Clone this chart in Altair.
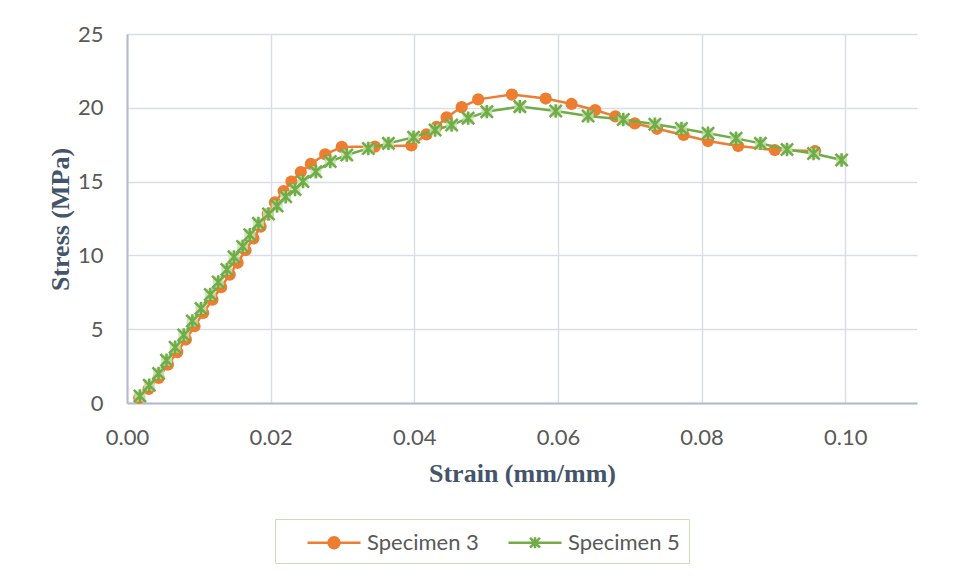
import altair as alt
import pandas as pd

# Specimen 3 (orange, circle markers)
strain_s3 = [0.0017, 0.0030, 0.0044, 0.0057, 0.0070, 0.0082, 0.0094, 0.0106, 0.0119, 0.0131,
             0.0143, 0.0154, 0.0165, 0.0176, 0.0186, 0.0196, 0.0206, 0.0218, 0.0229, 0.0242,
             0.0256, 0.0276, 0.0299, 0.0345, 0.0396, 0.0417, 0.0431, 0.0445, 0.0466, 0.0489,
             0.0536, 0.0583, 0.0619, 0.0652, 0.0680, 0.0707, 0.0738, 0.0775, 0.0809, 0.0851,
             0.0902, 0.0958]
stress_s3 = [0.35, 0.95, 1.70, 2.60, 3.45, 4.30, 5.20, 6.10, 7.00, 7.85,
             8.70, 9.50, 10.35, 11.15, 11.95, 12.80, 13.60, 14.36, 15.00, 15.65,
             16.20, 16.85, 17.35, 17.37, 17.45, 18.20, 18.70, 19.35, 20.05, 20.57,
             20.90, 20.63, 20.26, 19.85, 19.42, 18.95, 18.58, 18.16, 17.75, 17.41,
             17.14, 17.07]

# Specimen 5 (green, star markers)
strain_s5 = [0.0018, 0.0031, 0.0044, 0.0055, 0.0067, 0.0079, 0.0091, 0.0103, 0.0116, 0.0127,
             0.0139, 0.0149, 0.0161, 0.0171, 0.0183, 0.0197, 0.0209, 0.0221, 0.0234, 0.0245,
             0.0263, 0.0283, 0.0306, 0.0336, 0.0364, 0.0399, 0.0429, 0.0452, 0.0475, 0.0501,
             0.0547, 0.0597, 0.0642, 0.0691, 0.0735, 0.0772, 0.0809, 0.0848, 0.0882, 0.0919,
             0.0956, 0.0995]
stress_s5 = [0.47, 1.20, 2.00, 2.90, 3.77, 4.60, 5.55, 6.40, 7.35, 8.20,
             9.05, 9.90, 10.60, 11.40, 12.17, 12.80, 13.35, 13.98, 14.47, 15.00,
             15.67, 16.36, 16.80, 17.25, 17.59, 18.00, 18.50, 18.83, 19.30, 19.74,
             20.08, 19.78, 19.44, 19.20, 18.88, 18.60, 18.27, 17.93, 17.59, 17.18,
             16.90, 16.46]

series_names = ["Specimen 3", "Specimen 5"]
series_colors = ["#ED7D31", "#70AD47"]
x_ticks = [0.0, 0.02, 0.04, 0.06, 0.08, 0.10]
y_ticks = [0, 5, 10, 15, 20, 25]

df = pd.concat([
    pd.DataFrame({"strain": strain_s3, "stress": stress_s3, "series": series_names[0]}),
    pd.DataFrame({"strain": strain_s5, "stress": stress_s5, "series": series_names[1]}),
], ignore_index=True)

grid_color = "#D9DEE6"
axis_color = "#B0BCCC"
label_font = "Lato"
title_font = "Liberation Serif"

x_enc = alt.X(
    "strain:Q",
    scale=alt.Scale(domain=[0, 0.11], nice=False, zero=False),
    axis=alt.Axis(
        title="Strain (mm/mm)", values=x_ticks, format=".2f", labelFlush=False,
        titleX=395, titleY=70, titleBaseline="middle",
    ),
)
y_enc = alt.Y(
    "stress:Q",
    scale=alt.Scale(domain=[0, 25], nice=False),
    axis=alt.Axis(
        title="Stress (MPa)", values=y_ticks, labelFlush=False,
        titleX=-67, titleY=185, titleBaseline="middle", titleAngle=-90,
    ),
)

base = alt.Chart(df).encode(x=x_enc, y=y_enc)

s3 = base.transform_filter(alt.datum.series == series_names[0])
s5 = base.transform_filter(alt.datum.series == series_names[1])

line3 = s3.mark_line(color=series_colors[0], strokeWidth=2.5)
dots3 = s3.mark_point(shape="circle", filled=True, color=series_colors[0], size=150, opacity=1)
line5 = s5.mark_line(color=series_colors[1], strokeWidth=2.5)
halo5 = s5.mark_point(shape="square", filled=True, color="#C5E0B4", size=120, opacity=0.85)
star_path = "M-1,-1L1,1M-1,1L1,-1M0,-1.1L0,1.1"
star5 = s5.mark_point(shape=star_path, filled=False, color=series_colors[1],
                      size=150, strokeWidth=2.5, opacity=1)

# Legend symbols: a short line with the series marker in its middle
# (unit = 13 px; the line runs from -1 to 3.08 units, marker centred at 1.04)
legend_circle = ("M-1,0L3.08,0"
                 "M0.62,0A0.42,0.42,0,1,0,1.46,0A0.42,0.42,0,1,0,0.62,0Z")
legend_star = ("M-1,0L3.08,0"
               "M0.66,-0.38L1.42,0.38M0.66,0.38L1.42,-0.38M1.04,-0.42L1.04,0.42")

legend_def = alt.Legend(
    orient="none", legendX=148, legendY=485, direction="horizontal", title=None,
    symbolSize=676, symbolStrokeWidth=2.5, symbolOpacity=1,
    labelFont=label_font, labelFontSize=22, labelColor="#595959", labelOffset=32,
    strokeColor="#C5E0B4", padding=9, symbolOffset=22, columnPadding=6,
)
legend_layer = base.mark_point(filled=True, opacity=0).encode(
    shape=alt.Shape("series:N", scale=alt.Scale(domain=series_names, range=[legend_circle, legend_star]),
                    legend=legend_def),
    fill=alt.Fill("series:N", scale=alt.Scale(domain=series_names, range=series_colors), legend=legend_def),
    stroke=alt.Stroke("series:N", scale=alt.Scale(domain=series_names, range=series_colors), legend=legend_def),
)

chart = alt.layer(line3, dots3, line5, halo5, star5, legend_layer).properties(
    width=790, height=369,
    autosize=alt.AutoSizeParams(type="none"),
    padding={"left": 127, "top": 34, "right": 41, "bottom": 174},
    background="white",
).configure_view(strokeWidth=0).configure_axis(
    grid=True, gridColor=grid_color, gridWidth=1.5,
    domainColor=axis_color, domainWidth=2,
    ticks=False, labelFont=label_font, labelFontSize=22, labelColor="#595959",
    labelPadding=24,
    titleFont=title_font, titleFontSize=26, titleFontWeight="bold", titleColor="#44546A",
)

chart.save("out.html", embed_options={"renderer": "svg", "actions": False})
